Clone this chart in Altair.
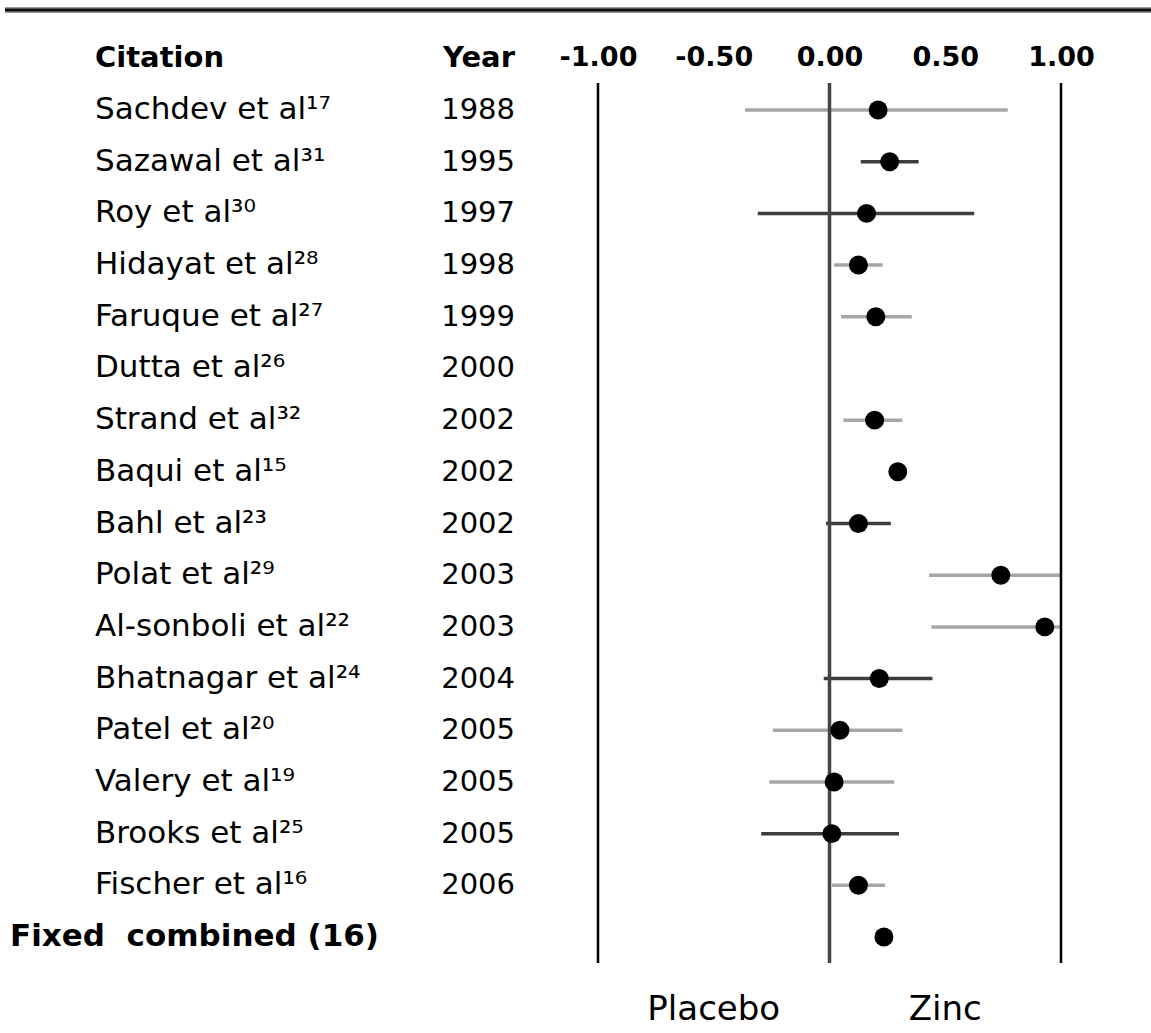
import altair as alt
import pandas as pd

citations = ["Sachdev et al¹⁷", "Sazawal et al³¹", "Roy et al³⁰", "Hidayat et al²⁸",
             "Faruque et al²⁷", "Dutta et al²⁶", "Strand et al³²", "Baqui et al¹⁵",
             "Bahl et al²³", "Polat et al²⁹", "Al-sonboli et al²²", "Bhatnagar et al²⁴",
             "Patel et al²⁰", "Valery et al¹⁹", "Brooks et al²⁵", "Fischer et al¹⁶"]
years = ["1988", "1995", "1997", "1998", "1999", "2000", "2002", "2002", "2002",
         "2003", "2003", "2004", "2005", "2005", "2005", "2006"]
point = [0.21, 0.26, 0.16, 0.125, 0.20, None, 0.195, 0.295, 0.125, 0.74, 0.93,
         0.215, 0.045, 0.02, 0.01, 0.125]
lower = [-0.365, 0.135, -0.31, 0.02, 0.05, None, 0.06, None, -0.015, 0.43, 0.44,
         -0.025, -0.245, -0.26, -0.295, 0.01]
upper = [0.77, 0.385, 0.625, 0.23, 0.355, None, 0.315, None, 0.265, 1.0, 1.0,
         0.445, 0.315, 0.28, 0.30, 0.24]
shade = ["light", "dark", "dark", "light", "light", "none", "light", "none", "dark",
         "light", "light", "dark", "light", "light", "dark", "light"]

combined_label = "Fixed\u00a0 combined (16)"
combined_point = 0.235

tick_values = [-1.0, -0.5, 0.0, 0.5, 1.0]
outer_lines = [-1.0, 1.0]
zero_line = [0.0]
side_labels = ["Placebo", "Zinc"]
side_pos = [-0.5, 0.5]

FONT = "DejaVu Sans"

n = len(citations)
studies = pd.DataFrame({"citation": citations, "year": years, "point": point,
                        "lower": lower, "upper": upper, "shade": shade,
                        "row": list(range(n))})
combined = pd.DataFrame({"citation": [combined_label], "point": [combined_point], "row": [n]})
dots = pd.concat([studies[["point", "row"]], combined[["point", "row"]]]).dropna()
ci = studies.dropna(subset=["lower", "upper"])
header = pd.DataFrame({"label": ["Citation", "Year"], "row": [-1, -1]})

xscale = alt.Scale(domain=[-1, 1], range=[598, 1061])
yscale = alt.Scale(domain=[0, 16], range=[27, 854])

top_axis = alt.Axis(orient="top", values=tick_values,
                    labelExpr="datum.value < 0 ? '-' + format(abs(datum.value), '.2f') : format(datum.value, '.2f')",
                    labelFont=FONT, labelFontWeight="bold", labelFontSize=27,
                    labelColor="black", labelPadding=12, labelFlush=False,
                    labelOverlap=False, labelAlign="center", ticks=False, domain=False,
                    grid=False, title=None)


def X(field):
    return alt.X(field, type="quantitative", scale=xscale, axis=top_axis)


def Y(field="row"):
    return alt.Y(field, type="quantitative", scale=yscale, axis=None)


ci_layer = alt.Chart(ci).mark_rule(strokeWidth=3.5).encode(
    x=X("lower"), x2=alt.X2("upper"), y=Y(),
    color=alt.Color("shade:N", scale=alt.Scale(domain=["light", "dark"],
                                               range=["#a6a6a6", "#3c3c3c"]), legend=None)
)

outer_layer = alt.Chart(pd.DataFrame({"v": outer_lines})).mark_rule(
    color="#000000", strokeWidth=2.5).encode(
    x=X("v"), y=alt.value(0), y2=alt.value(880)
)
zero_layer = alt.Chart(pd.DataFrame({"v": zero_line})).mark_rule(
    color="#454545", strokeWidth=3.5).encode(
    x=X("v"), y=alt.value(0), y2=alt.value(880)
)

dot_layer = alt.Chart(dots).mark_circle(size=360, color="black", opacity=1).encode(
    x=X("point"), y=Y()
)

cit_text = alt.Chart(studies).mark_text(align="left", baseline="middle", font=FONT,
                                        fontSize=31, color="black").encode(
    x=alt.value(95), y=Y(), text="citation:N"
)
year_text = alt.Chart(studies).mark_text(align="right", baseline="middle", font=FONT,
                                         fontSize=29, color="black").encode(
    x=alt.value(515), y=Y(), text="year:N"
)
comb_text = alt.Chart(combined).mark_text(align="left", baseline="middle", font=FONT,
                                          fontSize=31, fontWeight="bold", color="black").encode(
    x=alt.value(10), y=Y(), text="citation:N"
)
head_cit = alt.Chart(header.iloc[[0]]).mark_text(align="left", baseline="middle", font=FONT,
                                                  fontSize=29, fontWeight="bold", color="black").encode(
    x=alt.value(95), y=Y(), text="label:N"
)
head_year = alt.Chart(header.iloc[[1]]).mark_text(align="right", baseline="middle", font=FONT,
                                                   fontSize=29, fontWeight="bold", color="black").encode(
    x=alt.value(515), y=Y(), text="label:N"
)
side_text = alt.Chart(pd.DataFrame({"label": side_labels, "pos": side_pos})).mark_text(
    align="center", baseline="middle", font=FONT, fontSize=34, color="black").encode(
    x=X("pos"), y=alt.value(927), text="label:N"
)
top_rule_gray = alt.Chart(pd.DataFrame({"a": [0]})).mark_rule(color="#9a9a9a", strokeWidth=6).encode(
    x=alt.value(5), x2=alt.value(1151), y=alt.value(-73)
)
top_rule = alt.Chart(pd.DataFrame({"a": [0]})).mark_rule(color="#111111", strokeWidth=3).encode(
    x=alt.value(5), x2=alt.value(1151), y=alt.value(-73)
)

chart = alt.layer(
    top_rule_gray, top_rule, ci_layer, outer_layer, zero_layer, dot_layer, cit_text,
    year_text, comb_text, head_cit, head_year, side_text
).properties(
    width=1151, height=880,
    padding={"left": 0, "top": 83, "right": 0, "bottom": 70},
    autosize=alt.AutoSizeParams(type="none"),
    background="white"
).configure_view(stroke=None)

chart.save("out.html", embed_options={"renderer": "svg", "actions": False})
